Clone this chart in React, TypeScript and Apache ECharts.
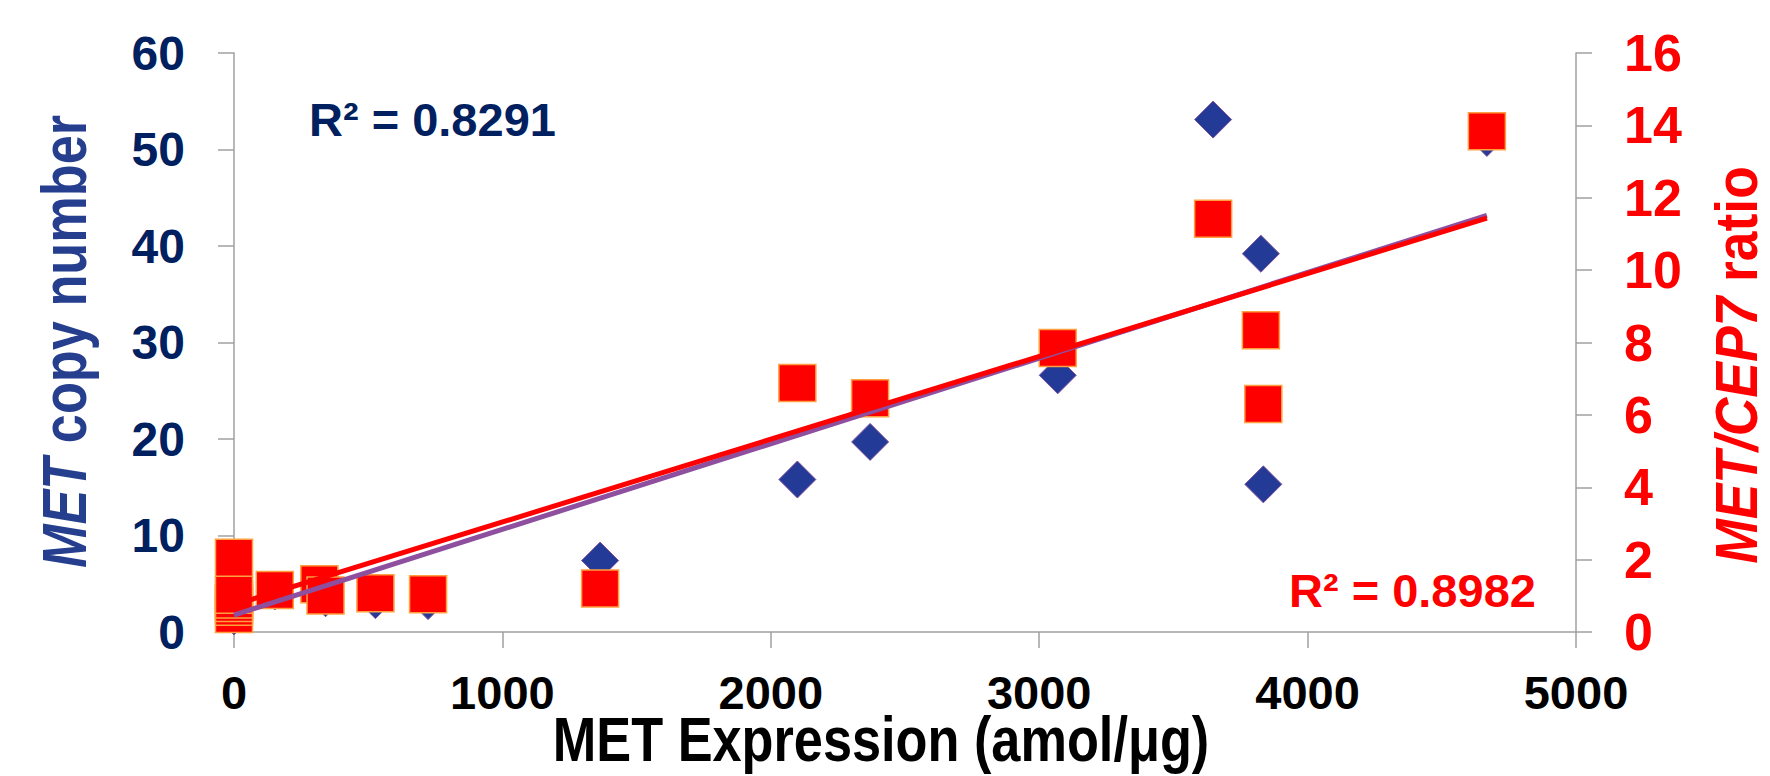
import React, { useEffect, useRef } from "react";
import * as echarts from "echarts";

// MET expression (amol/µg) for each sample
const expression = [0, 0, 0, 0, 0, 0, 152, 318, 341, 527, 723, 1364, 2099, 2370, 3069, 3648, 3826, 3835, 4668];
// MET copy number (left axis)
const copyNumber = [1.6, 2.5, 3.0, 2.0, 2.2, 4.0, 4.2, 4.5, 3.5, 3.3, 3.2, 7.4, 15.8, 19.7, 26.6, 53.1, 39.2, 15.3, 51.2];
// MET/CEP7 ratio (right axis)
const cep7Ratio = [0.5, 0.7, 0.8, 0.9, 1.03, 2.05, 1.16, 1.32, 1.01, 1.07, 1.04, 1.2, 6.88, 6.46, 7.85, 11.42, 8.34, 6.3, 13.84];
// linear trendlines: [intercept, slope]
const copyFit = [1.76, 0.008874];
const ratioFit = [0.75, 0.002289];
const r2Labels = ["R\u00B2 = 0.8291", "R\u00B2 = 0.8982"];
// axis ticks
const xTicks = [0, 1000, 2000, 3000, 4000, 5000];
const copyTicks = [0, 10, 20, 30, 40, 50, 60];
const ratioTicks = [0, 2, 4, 6, 8, 10, 12, 14, 16];
// axis titles
const xTitle = "MET Expression (amol/\u03BCg)";
const leftTitle = "{i|MET} copy number";
const rightTitle = "{i|MET/CEP7} ratio";

const REG = '"Liberation Sans", Arial, sans-serif';
const AXIS_COLOR = "#a0a0a0";

export default function App() {
  const ref = useRef<HTMLDivElement>(null);
  useEffect(() => {
    document.body.style.margin = "0";
    document.body.style.overflow = "hidden";
    if (!ref.current) return;
    const chart = echarts.init(ref.current, undefined, { renderer: "svg" });
    const xMin = Math.min(...expression);
    const xMax = Math.max(...expression);
    const fitLine = (f: number[]) => [
      [xMin, f[0] + f[1] * xMin],
      [xMax, f[0] + f[1] * xMax],
    ];
    const axisLine = { show: true, onZero: false, lineStyle: { color: AXIS_COLOR, width: 1.5 } };
    const axisTick = { show: true, length: 16, lineStyle: { color: AXIS_COLOR, width: 1.5 } };
    const plain = (v: number) => String(v);
    const titleStyle = (text: string, size: number, color: string) => ({
      text,
      fontFamily: REG,
      fontWeight: "bold",
      fontSize: size,
      fill: color,
      align: "center",
      verticalAlign: "middle",
      rich: {
        i: { fontFamily: REG, fontWeight: "bold", fontStyle: "italic", fontSize: size, fill: color },
      },
    });
    chart.setOption({
      animation: false,
      backgroundColor: "#ffffff",
      grid: { left: 234, right: 194, top: 53, bottom: 144, containLabel: false, outerBoundsMode: "none" },
      xAxis: {
        type: "value",
        min: xTicks[0],
        max: xTicks[xTicks.length - 1],
        interval: xTicks[1] - xTicks[0],
        axisLine,
        axisTick,
        splitLine: { show: false },
        axisLabel: { margin: 37, color: "#000000", fontFamily: REG, fontWeight: "bold", fontSize: 47, formatter: plain },
      },
      yAxis: [
        {
          type: "value",
          position: "left",
          min: copyTicks[0],
          max: copyTicks[copyTicks.length - 1],
          interval: copyTicks[1] - copyTicks[0],
          axisLine,
          axisTick,
          splitLine: { show: false },
          axisLabel: { margin: 49, color: "#002060", fontFamily: REG, fontWeight: "bold", fontSize: 48, formatter: plain },
        },
        {
          type: "value",
          position: "right",
          min: ratioTicks[0],
          max: ratioTicks[ratioTicks.length - 1],
          interval: ratioTicks[1] - ratioTicks[0],
          axisLine,
          axisTick,
          splitLine: { show: false },
          axisLabel: { margin: 48, color: "#FF0000", fontFamily: REG, fontWeight: "bold", fontSize: 52, formatter: plain },
        },
      ],
      series: [
        {
          name: "MET copy number",
          type: "scatter",
          yAxisIndex: 0,
          symbol: "diamond",
          symbolSize: 37,
          silent: true,
          itemStyle: { color: "#233A96", borderColor: "#7D4F9D", borderWidth: 1, opacity: 1 },
          data: expression.map((x, i) => [x, copyNumber[i]]),
          z: 2,
        },
        {
          name: "MET/CEP7 ratio",
          type: "scatter",
          yAxisIndex: 1,
          symbol: "rect",
          symbolSize: 37,
          silent: true,
          itemStyle: { color: "#FF0000", borderColor: "#FFA040", borderWidth: 1.5, opacity: 1 },
          data: expression.map((x, i) => [x, cep7Ratio[i]]),
          z: 3,
        },
        {
          name: "Copy number trend",
          type: "line",
          yAxisIndex: 0,
          symbol: "none",
          silent: true,
          lineStyle: { color: "#8E4F9F", width: 5 },
          data: fitLine(copyFit),
          z: 4,
        },
        {
          name: "Ratio trend",
          type: "line",
          yAxisIndex: 1,
          symbol: "none",
          silent: true,
          lineStyle: { color: "#FF0000", width: 5 },
          data: fitLine(ratioFit),
          z: 5,
        },
      ],
      graphic: [
        {
          type: "text",
          x: 881,
          y: 739.5,
          scaleX: 0.83,
          style: titleStyle(xTitle, 63, "#000000"),
        },
        {
          type: "text",
          x: 64.5,
          y: 341.5,
          rotation: Math.PI / 2,
          scaleX: 0.83,
          style: titleStyle(leftTitle, 63, "#253F8E"),
        },
        {
          type: "text",
          x: 1736,
          y: 365,
          rotation: Math.PI / 2,
          scaleX: 0.89,
          style: titleStyle(rightTitle, 60, "#FF0000"),
        },
        {
          type: "text",
          x: 309,
          y: 119,
          style: {
            text: r2Labels[0],
            fontFamily: REG,
            fontWeight: "bold",
            fontSize: 47,
            fill: "#002060",
            align: "left",
            verticalAlign: "middle",
          },
        },
        {
          type: "text",
          x: 1289,
          y: 590,
          style: {
            text: r2Labels[1],
            fontFamily: REG,
            fontWeight: "bold",
            fontSize: 47,
            fill: "#FF0000",
            align: "left",
            verticalAlign: "middle",
          },
        },
      ],
    });
    return () => chart.dispose();
  }, []);
  return <div ref={ref} style={{ width: 1770, height: 776 }} />;
}
